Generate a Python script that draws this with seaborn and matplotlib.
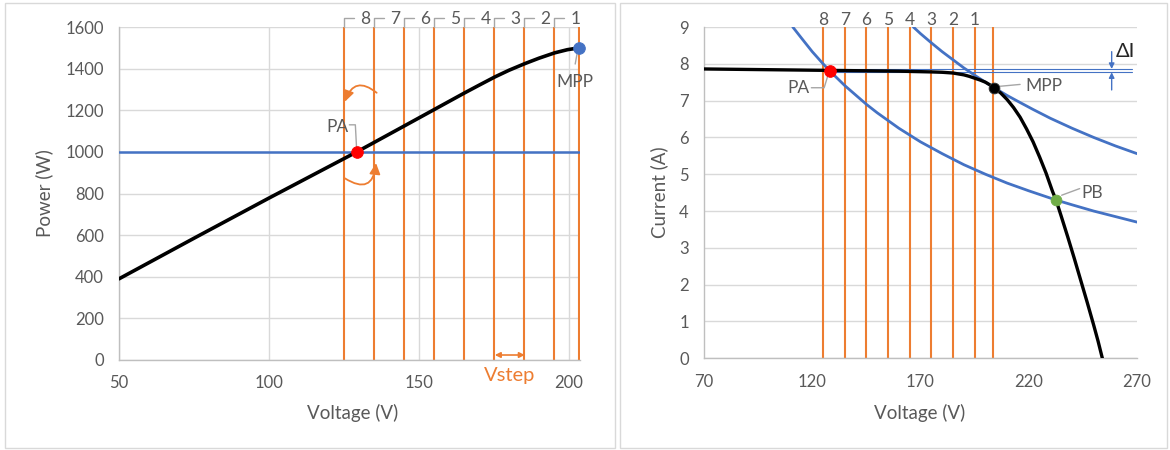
import matplotlib
matplotlib.use("Agg")
import matplotlib.pyplot as plt
import seaborn as sns
from matplotlib.patches import Rectangle

# ---- data -------------------------------------------------------------
# P-V curve of the array
pv_voltage = [50, 75, 100, 129.3, 145.3, 155.3, 165.3, 170, 175.3, 180, 185.3,
              190, 195.3, 199.5, 203.5]
pv_power = [390, 585, 778, 1000, 1126, 1205, 1284, 1320, 1360, 1392, 1424,
            1450, 1476, 1491, 1500]

# I-V curve of the array
iv_voltage = [70, 100, 130, 160, 175, 180, 185, 190, 192.5, 195, 197.5, 200, 202, 204,
              207, 210, 213, 216, 219, 222, 225, 228, 231, 232.6, 235, 238, 241,
              244, 247, 250, 252, 254]
iv_current = [7.86, 7.84, 7.82, 7.80, 7.78, 7.77, 7.75, 7.70, 7.66, 7.61, 7.56, 7.50,
              7.43, 7.34, 7.21, 7.03, 6.81, 6.55, 6.23, 5.88, 5.47, 5.03, 4.53, 4.30,
              3.86, 3.30, 2.72, 2.12, 1.52, 0.90, 0.47, 0.0]

# constant-power curves on the I-V plane (1000 W and 1500 W)
p1000_voltage = [111, 115, 120, 125, 128.2, 135, 145, 150, 160, 170, 180, 190, 200,
                 210, 220, 232.6, 240, 250, 260, 270]
p1000_current = [9.0, 8.70, 8.33, 8.00, 7.80, 7.41, 6.90, 6.67, 6.25, 5.88, 5.56,
                 5.26, 5.00, 4.76, 4.55, 4.30, 4.17, 4.00, 3.85, 3.70]
p1500_voltage = [166.7, 170, 175, 180, 185, 190, 195, 200, 204, 210, 215, 222, 230,
                 240, 250, 260, 270]
p1500_current = [9.0, 8.82, 8.57, 8.33, 8.11, 7.89, 7.69, 7.50, 7.35, 7.14, 6.98,
                 6.76, 6.52, 6.25, 6.00, 5.77, 5.56]

# perturbation steps (numbered 8 ... 1) and the MPP voltage
step_labels = ["8", "7", "6", "5", "4", "3", "2", "1"]
step_voltage = [125, 135, 145, 155, 165, 175, 185, 195]
mpp_voltage_left = 203.5
mpp_voltage_right = 203.5

power_ref = 1000
pa_left = (129.3, 1000)
mpp_left = (203.5, 1500)
pa_right = (128.2, 7.81)
mpp_right = (204, 7.34)
pb_right = (232.6, 4.30)
delta_i_levels = [7.86, 7.77]

# ---- style ------------------------------------------------------------
sns.set_theme(style="white")
plt.rcParams["font.family"] = ["Lato", "DejaVu Sans"]

ORANGE = "#ED7D31"
BLUE = "#4472C4"
GREEN = "#70AD47"
GRID = "#D9D9D9"
TXT = "#595959"
LEADER = "#A6A6A6"

FS_TICK = 12
FS_LABEL = 13.5
FS_NOTE = 12.5

W, H = 1170, 450
fig = plt.figure(figsize=(W / 100, H / 100), dpi=100)


def px_axes(x0, y0, x1, y1):
    return fig.add_axes([x0 / W, 1 - y1 / H, (x1 - x0) / W, (y1 - y0) / H])


# chart-area frames
for (x0, y0, x1, y1) in [(5, 3, 615, 448), (620, 3, 1167, 448)]:
    fig.patches.append(Rectangle((x0 / W, 1 - y1 / H), (x1 - x0) / W, (y1 - y0) / H,
                                 transform=fig.transFigure, fill=False,
                                 edgecolor=GRID, lw=1.0))


def style_axes(ax):
    for side in ["top", "right"]:
        ax.spines[side].set_visible(False)
    for side in ["left", "bottom"]:
        ax.spines[side].set_color("#BFBFBF")
        ax.spines[side].set_linewidth(1.0)
    ax.tick_params(axis="both", length=0, pad=11, labelsize=FS_TICK, labelcolor=TXT)
    ax.set_axisbelow(True)


# ---- left: P-V plane --------------------------------------------------
axl = px_axes(119, 27, 580, 360)
style_axes(axl)
axl.set_xlim(50, 203.7)
axl.set_ylim(0, 1600)
axl.set_xticks([50, 100, 150, 200])
axl.set_yticks(range(0, 1601, 200))
axl.grid(True, color=GRID, lw=1.0)

for v in step_voltage + [mpp_voltage_left]:
    axl.axvline(v, color=ORANGE, lw=1.5, zorder=2)

axl.axhline(power_ref, color=BLUE, lw=1.8, zorder=3)
sns.lineplot(x=pv_voltage, y=pv_power, ax=axl, color="black", lw=2.6,
             sort=False, estimator=None, zorder=4)
sns.scatterplot(x=[pa_left[0]], y=[pa_left[1]], ax=axl, color="red", s=70,
                edgecolor="red", zorder=6, clip_on=False)
sns.scatterplot(x=[mpp_left[0]], y=[mpp_left[1]], ax=axl, color=BLUE, s=70,
                edgecolor=BLUE, zorder=6, clip_on=False)

# numbered step labels with bracket leaders
for lab, v in zip(step_labels, step_voltage):
    axl.plot([v, v, v + 3.3], [1600, 1642, 1642], color=LEADER, lw=1.0, clip_on=False)
    axl.text(v + 7.2, 1640, lab, ha="center", va="center", fontsize=FS_NOTE, color=TXT,
             clip_on=False)

# PA label
axl.text(126.5, 1119, "PA", ha="right", va="center", fontsize=FS_NOTE, color=TXT)
axl.plot([126.8, 128.8, 129.2], [1130, 1130, 1020], color=LEADER, lw=1.0)
# MPP label
axl.plot([202.7, 202.1], [1470, 1422], color=LEADER, lw=1.0)
axl.text(202.0, 1337, "MPP", ha="center", va="center", fontsize=FS_NOTE, color=TXT)

# curved step arrows around PA
axl.annotate("", xy=(125.3, 1241), xytext=(135.9, 1284),
             arrowprops=dict(arrowstyle="-|>", connectionstyle="arc3,rad=0.7",
                             color=ORANGE, lw=1.3, mutation_scale=16,
                             shrinkA=0, shrinkB=0))
axl.annotate("", xy=(135.7, 946), xytext=(125.3, 873),
             arrowprops=dict(arrowstyle="-|>", connectionstyle="arc3,rad=0.8",
                             color=ORANGE, lw=1.3, mutation_scale=16,
                             shrinkA=0, shrinkB=0))

# Vstep dimension arrow
axl.annotate("", xy=(185.3, 24), xytext=(175.3, 24),
             arrowprops=dict(arrowstyle="<|-|>", color=ORANGE, lw=1.2,
                             mutation_scale=8, shrinkA=0, shrinkB=0))
axl.text(180.3, -73, "Vstep", ha="center", va="center", fontsize=14.5, color=ORANGE,
         clip_on=False)

axl.set_xlabel("Voltage (V)", fontsize=FS_LABEL, color=TXT)
axl.set_ylabel("Power (W)", fontsize=FS_LABEL, color=TXT)
axl.xaxis.set_label_coords(0.507, -0.133)
axl.yaxis.set_label_coords(-0.143, 0.5)

# ---- right: I-V plane -------------------------------------------------
axr = px_axes(704, 27, 1137, 358.3)
style_axes(axr)
axr.set_xlim(70, 270)
axr.set_ylim(0, 9)
axr.set_xticks([70, 120, 170, 220, 270])
axr.set_yticks(range(0, 10))
axr.grid(True, axis="y", color=GRID, lw=1.0)

for v in step_voltage + [mpp_voltage_right]:
    axr.axvline(v, color=ORANGE, lw=1.5, zorder=2)
for lab, v in zip(step_labels, step_voltage):
    axr.text(v, 9.19, lab, ha="center", va="center", fontsize=FS_NOTE, color=TXT,
             clip_on=False)

sns.lineplot(x=p1000_voltage, y=p1000_current, ax=axr, color=BLUE, lw=2.0,
             sort=False, estimator=None, zorder=3)
sns.lineplot(x=p1500_voltage, y=p1500_current, ax=axr, color=BLUE, lw=2.0,
             sort=False, estimator=None, zorder=3)

# delta-I guide lines
for lvl in delta_i_levels:
    axr.plot([pa_right[0], 267.5], [lvl, lvl], color=BLUE, lw=0.8, zorder=3)

sns.lineplot(x=iv_voltage, y=iv_current, ax=axr, color="black", lw=2.4,
             sort=False, estimator=None, zorder=4)

sns.scatterplot(x=[pa_right[0]], y=[pa_right[1]], ax=axr, color="red", s=70,
                edgecolor="red", zorder=6)
sns.scatterplot(x=[mpp_right[0]], y=[mpp_right[1]], ax=axr, color="black", s=60,
                edgecolor="#333333", zorder=6)
sns.scatterplot(x=[pb_right[0]], y=[pb_right[1]], ax=axr, color=GREEN, s=60,
                edgecolor=GREEN, zorder=6)

# point labels with leaders
axr.plot([127.0, 125.5, 119.6], [7.64, 7.35, 7.35], color=LEADER, lw=1.0, zorder=5)
axr.text(118.5, 7.33, "PA", ha="right", va="center", fontsize=FS_NOTE, color=TXT)
axr.plot([206.8, 216.0], [7.39, 7.44], color=LEADER, lw=1.0, zorder=5)
axr.text(218.5, 7.4, "MPP", ha="left", va="center", fontsize=FS_NOTE, color=TXT)
axr.plot([235.2, 243.5], [4.43, 4.61], color=LEADER, lw=1.0, zorder=5)
axr.text(244.5, 4.48, "PB", ha="left", va="center", fontsize=FS_NOTE, color=TXT)

# delta-I arrows
axr.annotate("", xy=(258.3, delta_i_levels[0]), xytext=(258.3, 8.33),
             arrowprops=dict(arrowstyle="-|>", color=BLUE, lw=1.0,
                             mutation_scale=8, shrinkA=0, shrinkB=0))
axr.annotate("", xy=(258.3, delta_i_levels[1]), xytext=(258.3, 7.29),
             arrowprops=dict(arrowstyle="-|>", color=BLUE, lw=1.0,
                             mutation_scale=8, shrinkA=0, shrinkB=0))
axr.text(260.2, 8.33, "ΔI", ha="left", va="center", fontsize=14.5, color="#262626",
         clip_on=False)

axr.set_xlabel("Voltage (V)", fontsize=FS_LABEL, color=TXT)
axr.set_ylabel("Current (A)", fontsize=FS_LABEL, color=TXT)
axr.xaxis.set_label_coords(0.499, -0.138)
axr.yaxis.set_label_coords(-0.083, 0.5)

fig.savefig("out.png", dpi=100)
